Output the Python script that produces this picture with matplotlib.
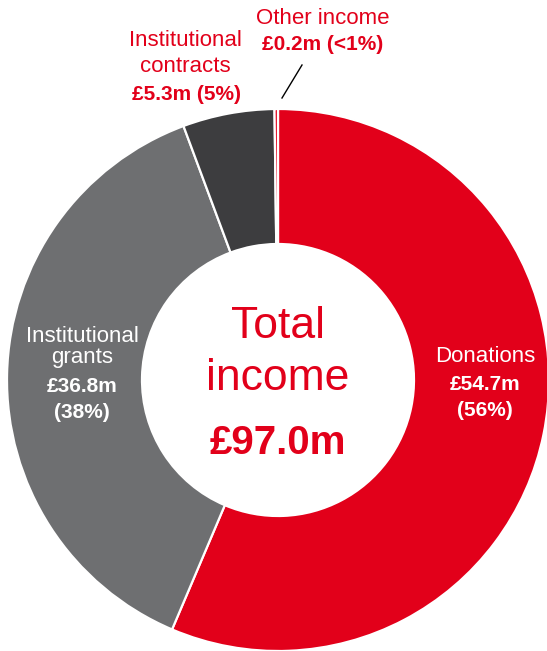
import matplotlib.pyplot as plt

# Income breakdown, £m
categories = ["Donations", "Institutional grants", "Institutional contracts", "Other income"]
amounts = [54.7, 36.8, 5.3, 0.2]
total = 97.0
amount_labels = ["£54.7m", "£36.8m", "£5.3m", "£0.2m"]
share_labels = ["(56%)", "(38%)", "(5%)", "(<1%)"]

red = "#E2001A"
grey = "#6E6F71"
dark = "#3D3D3F"
colors = [red, grey, dark, red]

W, H = 547, 651
font = "Liberation Sans"


def py(y):
    # pixel row (from top) -> data y
    return H - y


fig = plt.figure(figsize=(W / 100, H / 100), dpi=100)
ax = fig.add_axes([0, 0, 1, 1])

R = 271
ring = 135
ax.pie(amounts, colors=colors, startangle=90, counterclock=False,
       radius=R, center=(278, py(380)),
       wedgeprops=dict(width=ring, edgecolor="white", linewidth=1.6))

ax.set_xlim(0, W)
ax.set_ylim(0, H)
ax.set_aspect("equal")
ax.axis("off")

# centre text
ax.text(278, py(326), "Total", ha="center", va="center", color=red,
        fontsize=32, family=font)
ax.text(278, py(378), "income", ha="center", va="center", color=red,
        fontsize=32, family=font)
ax.text(278, py(443), f"£{total:.1f}m", ha="center", va="center", color=red,
        fontsize=29, family=font, fontweight="bold")

reg = dict(ha="center", va="center", family=font, fontsize=16)
bold = dict(ha="center", va="center", family=font, fontsize=15, fontweight="bold")

# donations (inside)
ax.text(485, py(357), categories[0], color="white", **reg)
ax.text(485, py(385), amount_labels[0], color="white", **bold)
ax.text(485, py(410), share_labels[0], color="white", **bold)

# grants (inside)
ax.text(82, py(336), "Institutional", color="white", **reg)
ax.text(82, py(358), "grants", color="white", **reg)
ax.text(82, py(387), amount_labels[1], color="white", **bold)
ax.text(82, py(412), share_labels[1], color="white", **bold)

# contracts (outside)
ax.text(185, py(40), "Institutional", color=red, **reg)
ax.text(185, py(66), "contracts", color=red, **reg)
ax.text(186, py(95), f"{amount_labels[2]} {share_labels[2]}", color=red, **bold)

# other income (outside)
ax.text(323, py(19), categories[3], color=red, **reg)
ax.text(323, py(45), f"{amount_labels[3]} {share_labels[3]}", color=red, **bold)
ax.plot([302, 282], [py(65), py(98)], color="black", lw=1)

fig.savefig("out.png", dpi=100)
